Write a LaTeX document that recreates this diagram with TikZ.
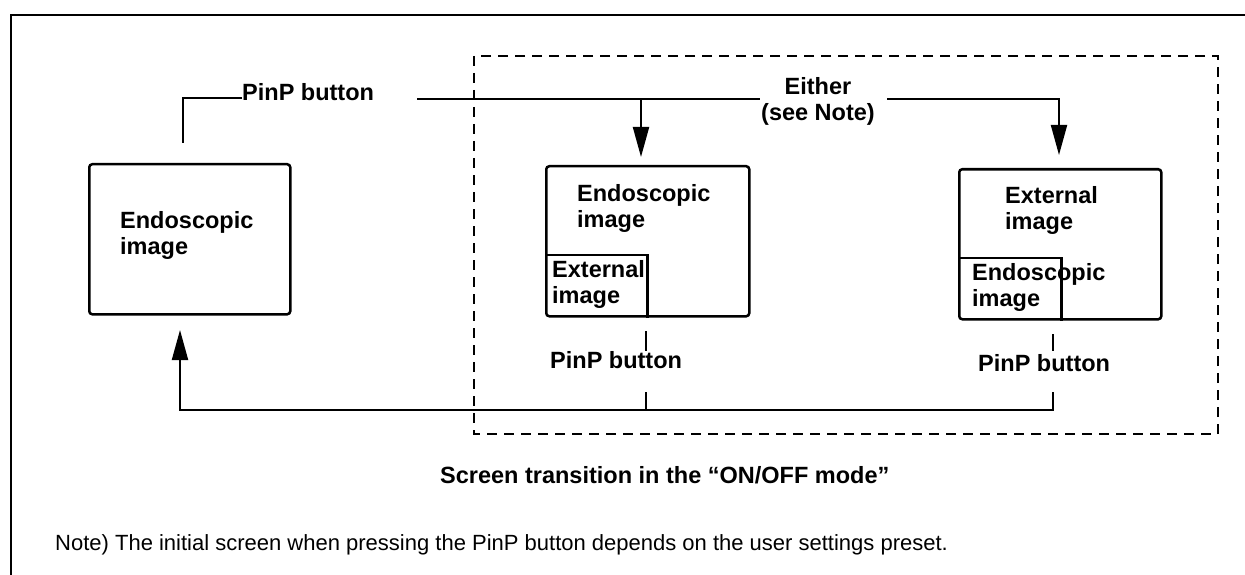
\documentclass[tikz,border=0pt]{standalone}
\usepackage{fontspec}
\setmainfont{Liberation Sans}
\usetikzlibrary{arrows.meta}
\begin{document}
\begin{tikzpicture}[x=1pt,y=-1pt,
  lbl/.style={font=\fontsize{23.5}{26}\selectfont\bfseries, inner sep=0pt, align=left},
  scr/.style={draw, line width=2.5pt, rounded corners=3pt, inner sep=0pt, anchor=north west},
  pipbox/.style={inner sep=0pt, anchor=south west, minimum width=102pt, minimum height=62pt},
  conn/.style={line width=2pt},
  arr/.style={conn, -{Triangle[length=30pt,width=16pt]}},
  dashbox/.style={line width=1.5pt, dash pattern=on 10pt off 7pt}
]
\useasboundingbox (0,0) rectangle (1245,575);
% outer frame
\draw[line width=2pt] (11,575) -- (11,15) -- (1245,15);
% dashed group
\draw[dashbox] (474,56) rectangle (1218,434);

% screens
\node[scr, minimum width=201pt, minimum height=150pt] (s1) at (88,163) {};
\node[scr, minimum width=203pt, minimum height=150pt] (s2) at (545,165) {};
\node[scr, minimum width=202pt, minimum height=150pt] (s3) at (958,168) {};
\node[pipbox] (p2) at (s2.south west) {};
\node[pipbox, minimum width=103pt] (p3) at (s3.south west) {};
\draw[line width=2.5pt] (p2.north west) -- (p2.north east) -- (p2.south east);
\draw[line width=2.5pt] (p3.north west) -- (p3.north east) -- (p3.south east);

% screen labels
\node[lbl, anchor=north west] (t1) at (120,211) {Endoscopic\\image};
\node[lbl, anchor=north west] (t2) at (577,184) {Endoscopic\\image};
\node[lbl, anchor=north west] (t2i) at (552,260) {External\\image};
\node[lbl, anchor=north west] (t3) at (1005,186) {External\\image};
\node[lbl, anchor=north west] (t3i) at (972,263) {Endoscopic\\image};

% top connectors
\node[lbl, anchor=base west] (pb1) at (242,101) {PinP button};
\node[lbl, align=center, anchor=north] (either) at (818,77) {Either\\(see Note)};
\coordinate (a1) at (183,143);
\coordinate (k1) at (242,98);
\draw[conn] (a1) |- (k1);
\coordinate (tA) at (417,99);
\coordinate (tE) at (760,99);
\draw[conn] (tA) -- (tE);
\coordinate (tB) at (887,99);
\coordinate (tC) at (1059,155);
\draw[arr] (tB) -| (tC);
\coordinate (m1) at (641,99);
\coordinate (m2) at (641,157);
\draw[arr] (m1) -- (m2);

% bottom connectors
\node[lbl, anchor=base west] (pb2) at (550,368) {PinP button};
\node[lbl, anchor=base west] (pb3) at (978,371) {PinP button};
\coordinate (u2a) at (646,331);
\coordinate (u2b) at (646,351);
\coordinate (u3a) at (1053,334);
\coordinate (u3b) at (1053,351);
\draw[conn] (u2a) -- (u2b);
\draw[conn] (u3a) -- (u3b);
\coordinate (d2) at (646,392);
\coordinate (d3) at (1053,392);
\coordinate (b2) at (646,410);
\coordinate (b0) at (180,410);
\coordinate (ba) at (180,330);
\draw[conn] (d2) -- (b2);
\draw[arr] (d3) |- (b0) -- (ba);

% captions
\node[font=\fontsize{23.5}{26}\selectfont\bfseries, inner sep=0pt, anchor=base west] (title) at (440,483) {Screen transition in the “ON/OFF mode”};
\node[font=\fontsize{22}{26}\selectfont, inner sep=0pt, anchor=base west] (note) at (55,550) {Note) The initial screen when pressing the PinP button depends on the user settings preset.};
\end{tikzpicture}
\end{document}
